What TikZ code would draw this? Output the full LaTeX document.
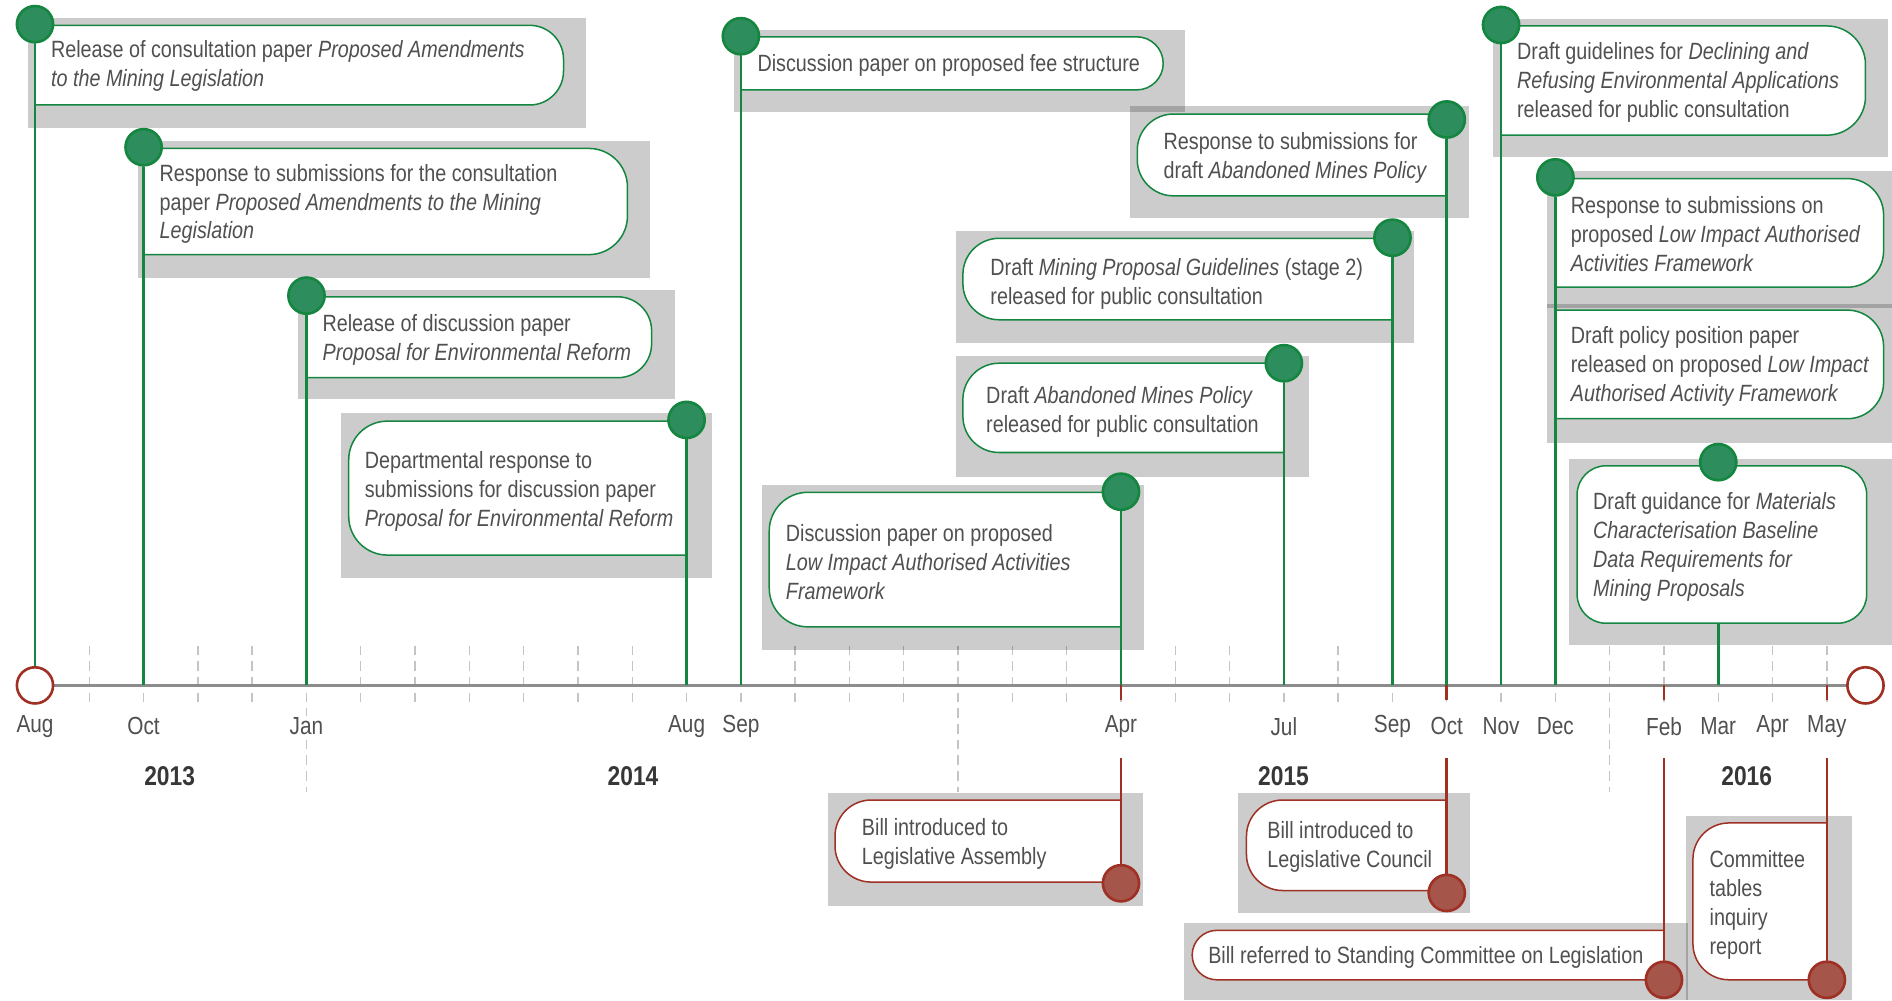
\documentclass[tikz,border=0pt]{standalone}
\usepackage{fontspec}
\setmainfont{Liberation Sans}[FakeStretch=0.84]
\definecolor{gline}{RGB}{20,134,64}
\definecolor{gfill}{RGB}{46,141,92}
\definecolor{rline}{RGB}{158,48,36}
\definecolor{rfill}{RGB}{166,85,75}
\definecolor{txtc}{RGB}{80,80,80}
\definecolor{yrc}{RGB}{55,55,55}
\definecolor{axisc}{RGB}{140,140,140}
\definecolor{tickc}{RGB}{196,196,196}
\pgfdeclarelayer{fg}
\pgfsetlayers{main,fg}
% box with the connector on its left side: right corners rounded
\newcommand\boxRR[6]{\draw[#1] (#2,#5) -- (#2,#3) -- ({#4-#6},#3) arc[start angle=-90,end angle=0,radius=#6] -- (#4,{#5-#6}) arc[start angle=0,end angle=90,radius=#6] -- cycle;}
% box with the connector on its right side: left corners rounded
\newcommand\boxLR[6]{\draw[#1] (#4,#3) -- ({#2+#6},#3) arc[start angle=270,end angle=180,radius=#6] -- (#2,{#5-#6}) arc[start angle=180,end angle=90,radius=#6] -- (#4,#5) -- cycle;}
\begin{document}
\begin{tikzpicture}[x=0.6pt,y=-0.6pt,
  shadowbox/.style={fill=black,fill opacity=0.2,draw=none},
  gbox/.style={fill=white,draw=gline,line width=0.75pt},
  rbox/.style={fill=white,draw=rline,line width=0.75pt},
  gconn/.style={draw=gline,line width=1.3pt},
  rconn/.style={draw=rline,line width=1.3pt},
  gmark/.style={circle,minimum size=18pt,inner sep=0pt,fill=gfill,draw=gline,line width=1.3pt},
  rmark/.style={circle,minimum size=18pt,inner sep=0pt,fill=rfill,draw=rline,line width=1.3pt},
  endcirc/.style={circle,minimum size=18pt,inner sep=0pt,fill=white,draw=rline,line width=1.3pt},
  axisline/.style={draw=axisc,line width=1.2pt},
  monthtick/.style={draw=tickc,line width=0.7pt,dash pattern=on 4.8pt off 3pt},
  lbl/.style={anchor=west,align=left,inner sep=0pt,text=txtc,font=\fontsize{11.7pt}{14.4pt}\selectfont},
  mon/.style={text=txtc,inner sep=1pt,fill=white,font=\fontsize{12.3pt}{14pt}\selectfont},
  yr/.style={text=yrc,inner sep=0pt,font=\fontsize{13.5pt}{15pt}\selectfont\bfseries}]
\useasboundingbox (0,0) rectangle (1568,829);

% month ticks and year dividers
\foreach \n in {1,...,33}{\draw[monthtick] ({29+45*\n},535) -- ({29+45*\n},584);}
\foreach \n in {5,17,29}{\draw[monthtick] ({29+45*\n},535) -- ({29+45*\n},656);}
\foreach \n in {0,...,33}{\coordinate (m\n) at ({29+45*\n},568);}

% shadows
\fill[shadowbox] (23,15) rectangle (486,106);
\fill[shadowbox] (114,117) rectangle (539,230);
\fill[shadowbox] (247,240) rectangle (559,331);
\fill[shadowbox] (283,342) rectangle (590,479);
\fill[shadowbox] (608,25) rectangle (982,93);
\fill[shadowbox] (631.5,402) rectangle (948,539);
\fill[shadowbox] (792,295) rectangle (1085,395);
\fill[shadowbox] (792,191.5) rectangle (1172,284.5);
\fill[shadowbox] (936.5,88) rectangle (1217.5,181);
\fill[shadowbox] (1237,16) rectangle (1565,130);
\fill[shadowbox] (1282,142) rectangle (1568,255.5);
\fill[shadowbox] (1282,252) rectangle (1568,367);
\fill[shadowbox] (1300.5,380.5) rectangle (1568,534.6);
\fill[shadowbox] (686,657) rectangle (947,751);
\fill[shadowbox] (1026,657) rectangle (1218,757);
\fill[shadowbox] (981,765) rectangle (1399,829);
\fill[shadowbox] (1397,676) rectangle (1535,829);

% boxes
\boxRR{gbox}{29}{21}{467}{87}{28}
\boxRR{gbox}{119}{123}{520}{211}{32}
\boxRR{gbox}{254}{246}{540}{313}{28}
\boxLR{gbox}{289}{349}{569}{460}{32}
\boxRR{gbox}{614}{30.5}{964}{74.5}{22}
\boxLR{gbox}{637.5}{408}{929}{519.5}{32}
\boxLR{gbox}{798}{301}{1064}{375}{30}
\boxLR{gbox}{798}{197.5}{1154}{265}{30}
\boxLR{gbox}{942.5}{94.5}{1199}{162.3}{30}
\boxRR{gbox}{1244}{21.5}{1546}{112}{32}
\boxRR{gbox}{1289}{148}{1561}{238}{30}
\boxRR{gbox}{1289}{257}{1561}{347}{30}
\draw[gbox,rounded corners=14.4pt] (1307,386) rectangle (1547,516.5);
\boxLR{rbox}{692}{663}{929}{731}{30}
\boxLR{rbox}{1033}{663}{1199}{738}{30}
\boxLR{rbox}{988}{771}{1379}{812}{20.5}
\boxLR{rbox}{1403}{682}{1514}{812}{30}

% markers and axis ends (foreground)
\begin{pgfonlayer}{fg}
\node[endcirc] (axstart) at (m0) {};
\node[endcirc] (axend) at (1546,568) {};
\node[gmark] (mk1) at (29,20) {};
\node[gmark] (mk2) at (119,122) {};
\node[gmark] (mk3) at (254,245) {};
\node[gmark] (mk4) at (569,348) {};
\node[gmark] (mk5) at (614,30) {};
\node[gmark] (mk6) at (929,407.5) {};
\node[gmark] (mk7) at (1064,301) {};
\node[gmark] (mk8) at (1154,197) {};
\node[gmark] (mk9) at (1199,99) {};
\node[gmark] (mk10) at (1244,20.7) {};
\node[gmark] (mk11) at (1289,147) {};
\node[gmark] (mk13) at (1424,383) {};
\node[rmark] (rk14) at (929,732) {};
\node[rmark] (rk15) at (1199,740) {};
\node[rmark] (rk16) at (1379,812) {};
\node[rmark] (rk17) at (1514,812) {};
\end{pgfonlayer}

% axis
\draw[axisline] (axstart) -- (axend);

% green connectors
\draw[gconn] (mk1) -- (axstart);
\draw[gconn] (mk2) -- (m2);
\draw[gconn] (mk3) -- (m5);
\draw[gconn] (mk4) -- (m12);
\draw[gconn] (mk5) -- (m13);
\draw[gconn] (mk6) -- (m20);
\draw[gconn] (mk7) -- (m23);
\draw[gconn] (mk8) -- (m25);
\draw[gconn] (mk9) -- (m26);
\draw[gconn] (mk10) -- (m27);
\draw[gconn] (mk11) -- (m28);
\coordinate (b13) at (1424,516.5);
\draw[gconn] (b13) -- (m31);

% red connectors
\foreach \n/\k in {20/14,26/15,30/16,33/17}{
  \coordinate (rs\n) at ({29+45*\n},580);
  \coordinate (rt\n) at ({29+45*\n},628);
  \draw[rconn] (m\n) -- (rs\n);
  \draw[rconn] (rt\n) -- (rk\k);
}

% texts
\node[lbl] (t1) at (42,55) {Release of consultation paper \textit{Proposed Amendments}\\\textit{to the Mining Legislation}};
\node[lbl] (t2) at (132,169) {Response to submissions for the consultation\\paper \textit{Proposed Amendments to the Mining}\\\textit{Legislation}};
\node[lbl] (t3) at (267,282) {Release of discussion paper\\\textit{Proposal for Environmental Reform}};
\node[lbl] (t4) at (302,407) {Departmental response to\\submissions for discussion paper\\\textit{Proposal for Environmental Reform}};
\node[lbl] (t5) at (627.5,54) {Discussion paper on proposed fee structure};
\node[lbl] (t6) at (651,466) {Discussion paper on proposed\\\textit{Low Impact Authorised Activities}\\\textit{Framework}};
\node[lbl] (t7) at (817,341) {Draft \textit{Abandoned Mines Policy}\\released for public consultation};
\node[lbl] (t8) at (820.5,235) {Draft \textit{Mining Proposal Guidelines} (stage 2)\\released for public consultation};
\node[lbl] (t9) at (964,131) {Response to submissions for\\draft \textit{Abandoned Mines Policy}};
\node[lbl] (t10) at (1257,68) {Draft guidelines for \textit{Declining and}\\\textit{Refusing Environmental Applications}\\released for public consultation};
\node[lbl] (t11) at (1301.5,194) {Response to submissions on\\proposed \textit{Low Impact Authorised}\\\textit{Activities Framework}};
\node[lbl] (t12) at (1301.5,304) {Draft policy position paper\\released on proposed \textit{Low Impact}\\\textit{Authorised Activity Framework}};
\node[lbl] (t13) at (1320,453) {Draft guidance for \textit{Materials}\\\textit{Characterisation Baseline}\\\textit{Data Requirements for}\\\textit{Mining Proposals}};
\node[lbl] (t14) at (714,699.5) {Bill introduced to\\Legislative Assembly};
\node[lbl] (t15) at (1050,702) {Bill introduced to\\Legislative Council};
\node[lbl] (t16) at (1001,793.5) {Bill referred to Standing Committee on Legislation};
\node[lbl] (t17) at (1416.5,750) {Committee\\tables\\inquiry\\report};

% month labels
\foreach \n/\t in {0/Aug,2/Oct,5/Jan,12/Aug,13/Sep,20/Apr,23/Jul,25/Sep,26/Oct,27/Nov,28/Dec,30/Feb,31/Mar,32/Apr,33/May}{
  \node[mon] (lab\n) at ({29+45*\n},602) {\t};
}
% year labels
\node[yr] (y2013) at (140.6,643) {2013};
\node[yr] (y2014) at (524.6,643) {2014};
\node[yr] (y2015) at (1063.7,643) {2015};
\node[yr] (y2016) at (1447.6,643) {2016};
\end{tikzpicture}
\end{document}
